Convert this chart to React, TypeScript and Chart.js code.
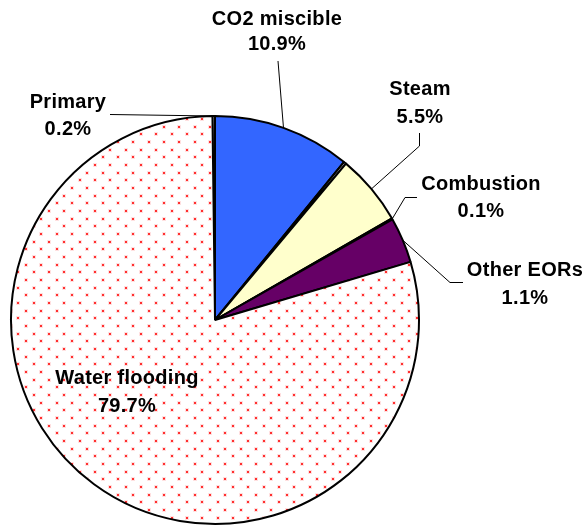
import React, { useEffect, useRef } from "react";
import { Chart, registerables } from "chart.js";

Chart.register(...registerables);

// ---- data ----
const categories = ["Primary", "CO2 miscible", "", "Steam", "Combustion", "Other EORs", "Water flooding"];
const shares = [0.2, 10.9, 0.2, 5.6, 0.1, 3.6, 79.4];
const percentLabels = ["0.2%", "10.9%", "", "5.5%", "0.1%", "1.1%", "79.7%"];
const sliceColors = ["#ffffff", "#3366ff", "#ffffff", "#ffffcc", "#ffffff", "#660066", "PATTERN"];

// ---- annotation layout (label anchors and leader elbows) ----
const LABEL_LAYOUT = [
  { index: 0, x: 68, baselines: [108, 134.5], leader: [[110, 114.5]] },
  { index: 1, x: 277, baselines: [24.5, 50], leader: [[278, 61]] },
  { index: 3, x: 420, baselines: [95, 123], leader: [[419.5, 133], [419.5, 146]] },
  { index: 4, x: 481, baselines: [190, 217], leader: [[417, 197.5], [405, 197.5]] },
  { index: 5, x: 525, baselines: [276, 304], leader: [[463, 282.5], [450, 282.5]] },
  { index: 6, x: 127, baselines: [383.5, 411.5], leader: [] as number[][] },
];

function makeDotPattern(): CanvasPattern | string {
  const tile = document.createElement("canvas");
  tile.width = 46;
  tile.height = 46;
  const c = tile.getContext("2d");
  if (!c) return "#ffffff";
  c.fillStyle = "#ffffff";
  c.fillRect(0, 0, 46, 46);
  for (let r = 0; r < 6; r++) {
    const y = (Math.round(r * (46 / 6)) + 3) % 46;
    const offs = r % 2 === 1 ? [0, 15, 31] : [8, 23, 38];
    for (const o of offs) {
      const x = (o + 2) % 46;
      c.fillStyle = "#ffe0e0";
      c.fillRect(x - 1, y - 1, 4, 4);
      c.fillStyle = "#ff3030";
      c.fillRect(x, y, 2, 2);
    }
  }
  const p = c.createPattern(tile, "repeat");
  return p || "#ffffff";
}

const labelPlugin = {
  id: "pieLabels",
  afterDraw(chart: any) {
    const ctx = chart.ctx as CanvasRenderingContext2D;
    const meta = chart.getDatasetMeta(0);
    ctx.save();
    // leader lines
    ctx.strokeStyle = "#000000";
    ctx.lineWidth = 1;
    for (const lab of LABEL_LAYOUT) {
      if (!lab.leader.length) continue;
      const arc = meta.data[lab.index];
      const p = arc.getProps(["x", "y", "startAngle", "endAngle", "outerRadius"], true);
      const mid = (p.startAngle + p.endAngle) / 2;
      const ex = p.x + Math.cos(mid) * p.outerRadius;
      const ey = p.y + Math.sin(mid) * p.outerRadius;
      ctx.beginPath();
      ctx.moveTo(lab.leader[0][0], lab.leader[0][1]);
      for (let k = 1; k < lab.leader.length; k++) ctx.lineTo(lab.leader[k][0], lab.leader[k][1]);
      ctx.lineTo(ex, ey);
      ctx.stroke();
    }
    // texts
    ctx.fillStyle = "#000000";
    ctx.font = "bold 20px 'Liberation Sans', Arial, sans-serif";
    (ctx as any).letterSpacing = "0.3px";
    ctx.textAlign = "center";
    ctx.textBaseline = "alphabetic";
    for (const lab of LABEL_LAYOUT) {
      ctx.fillText(categories[lab.index], lab.x, lab.baselines[0]);
      ctx.fillText(percentLabels[lab.index], lab.x, lab.baselines[1]);
    }
    ctx.restore();
  },
};

export default function App() {
  const ref = useRef<HTMLCanvasElement | null>(null);
  useEffect(() => {
    if (!ref.current) return;
    const pattern = makeDotPattern();
    const colors = sliceColors.map((c) => (c === "PATTERN" ? pattern : c));
    const chart = new Chart(ref.current, {
      type: "pie",
      data: {
        labels: categories,
        datasets: [
          {
            data: shares,
            backgroundColor: colors as any,
            borderColor: "#000000",
            borderWidth: 2,
          },
        ],
      },
      options: {
        responsive: false,
        animation: false,
        events: [],
        rotation: -0.72,
        layout: { padding: { left: 10, right: 166, top: 115, bottom: 2 } },
        plugins: {
          legend: { display: false },
          tooltip: { enabled: false },
          title: { display: false },
        },
      },
      plugins: [labelPlugin],
    });
    return () => chart.destroy();
  }, []);
  return (
    <div style={{ position: "absolute", left: 0, top: 0, width: 586, height: 527, background: "#ffffff" }}>
      <canvas ref={ref} width={586} height={527} style={{ display: "block" }} />
    </div>
  );
}
